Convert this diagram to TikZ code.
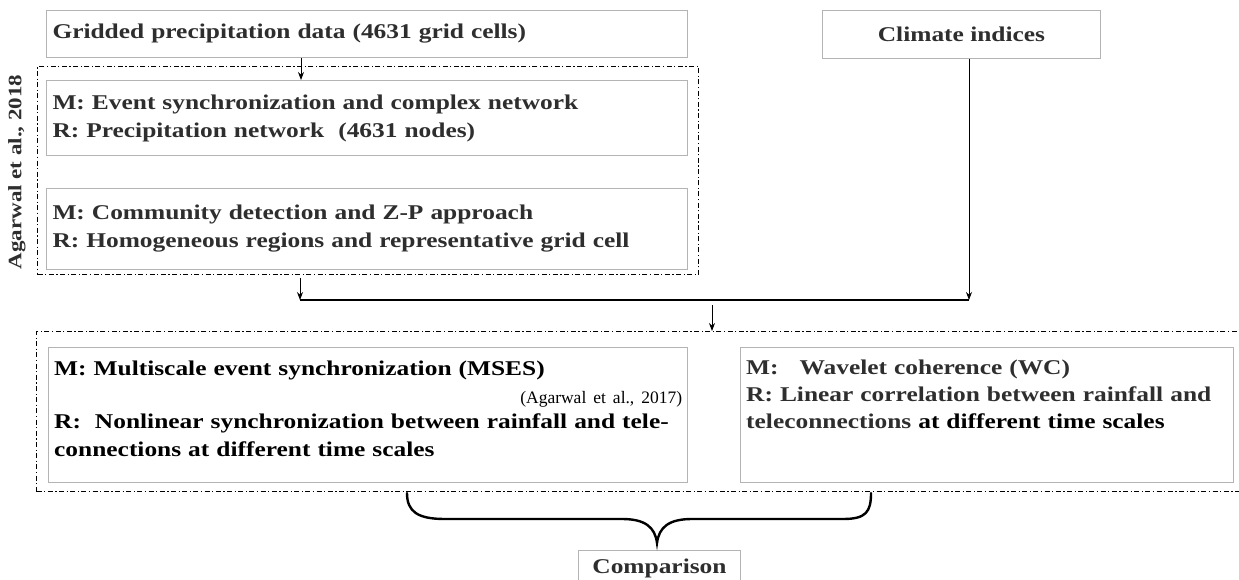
\documentclass[tikz,border=0pt]{standalone}
\usepackage{fontspec}
\setmainfont{Liberation Serif}[FakeStretch=1.21]
\newfontfamily\citefont{Liberation Serif}
\usetikzlibrary{arrows.meta,calc}
\definecolor{boxgray}{HTML}{B4B4B4}
\definecolor{txtgray}{HTML}{2E2E2E}
\begin{document}
\begin{tikzpicture}[x=1pt,y=-1pt,
  box/.style={draw=boxgray, line width=1pt, inner sep=0pt, anchor=north west},
  lbl/.style={font=\fontsize{21}{28}\selectfont\bfseries, text=txtgray, inner sep=0pt, align=left},
  grp/.style={draw=black, line width=1.3pt, dash pattern=on 5pt off 2.5pt on 1.2pt off 2.5pt, inner sep=0pt, anchor=north west},
  arr/.style={-{Stealth[length=8pt,width=6pt]}, line width=0.8pt},
  bracestyle/.style={line width=2.4pt, line cap=round},
]
\clip (0,0) rectangle (1239,580);
\fill[white] (0,0) rectangle (1239,580);

% top boxes
\node[box, minimum width=641pt, minimum height=47pt, text width=629pt, align=left, lbl] (grid) at (46,10) {Gridded precipitation data (4631 grid cells)};
\node[box, minimum width=278pt, minimum height=48pt, lbl, align=center] (clim) at (822,10) {Climate indices};

% group A
\node[grp, minimum width=661pt, minimum height=208pt] (grpA) at (37,66) {};
\node[box, minimum width=641pt, minimum height=75pt, text width=629pt, align=left, lbl] (m1) at (46,80) {M: Event synchronization and complex network\\R: Precipitation network\ \ (4631 nodes)};
\node[box, minimum width=641pt, minimum height=81pt, text width=629pt, align=left, lbl] (m2) at (46,188) {M: Community detection and Z-P approach\\R: Homogeneous regions and representative grid cell};
\node[lbl, font=\fontsize{19}{20}\selectfont\bfseries, rotate=90] (agl) at (17,172) {Agarwal et al., 2018};

% joins
\coordinate (a1) at (301,0);
\coordinate (jl) at (300,300);
\coordinate (jr) at (969,300);
\coordinate (a3) at (712,305);
\draw[arr] (grid.south -| a1) -- (m1.north -| a1);
\draw[arr] ($(grpA.south -| jl)+(0,3)$) -- (jl);
\draw[line width=1.8pt] (jl) -- (jr);
\draw[arr] (clim.south -| jr) -- (jr);

% group B
\node[grp, minimum width=1220pt, minimum height=160pt] (grpB) at (36,331) {};
\draw[arr] (a3) -- (grpB.north -| a3);
\node[box, minimum width=639pt, minimum height=135pt] (mses) at (48,347) {};
\node[box, minimum width=493pt, minimum height=135pt] (wc) at (740,347) {};
\node[lbl, text=black, anchor=north west, text width=628pt] (msest) at ($(mses.north west)+(6,14)$) {M: Multiscale event synchronization (MSES)\\
\hfill{\citefont\fontsize{17.5}{27}\selectfont\mdseries(Agarwal et al., 2017)}\\[-3pt]
R:\ \ Nonlinear synchronization between rainfall and tele-\\
connections at different time scales};
\node[lbl, anchor=north west, text width=485pt] (wct) at ($(wc.north west)+(6,13)$) {M:\ \ \ Wavelet coherence (WC)\\[-1pt]
R: Linear correlation between rainfall and\\[-1pt]
teleconnections {\color{black}at different time scales}};

% brace and comparison
\node[box, minimum width=162pt, minimum height=36pt, lbl, anchor=north west] (comp) at (578,550) {Comparison};
\draw[bracestyle] (407,493) .. controls (407,512) and (418,519) .. (445,519) -- (622,519) .. controls (645,519) and (655,527) .. (657,543) .. controls (659,527) and (669,519) .. (692,519) -- (843,519) .. controls (866,519) and (871,512) .. (871,493);
\end{tikzpicture}
\end{document}
